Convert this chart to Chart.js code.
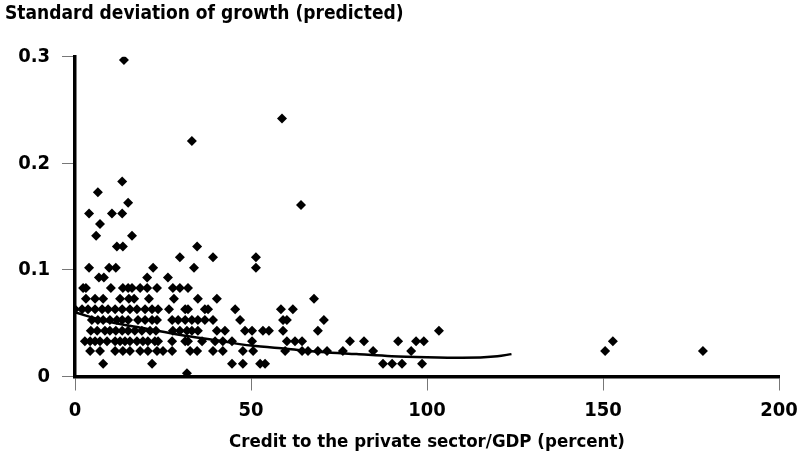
<!DOCTYPE html>
<html>
<head>
<meta charset="utf-8">
<script src="https://cdn.jsdelivr.net/npm/chart.js@4.4.1/dist/chart.umd.min.js"></script>
<style>
    html, body { margin: 0; padding: 0; background: #fff; }
    #wrap { width: 798px; height: 466px; }
</style>
</head>
<body>
<div id="wrap"><canvas id="sdChart"></canvas></div>
<script>
// predicted sd of growth, grouped by the horizontal rows the points sit on
const sdRows = [0.003, 0.012, 0.024, 0.033, 0.043, 0.053, 0.063, 0.073, 0.083, 0.093, 0.102,
    0.112, 0.122, 0.132, 0.143, 0.153, 0.161, 0.163, 0.173, 0.183, 0.221, 0.242, 0.297];

// credit / GDP for every point on each row above
const creditByRow = [
    [31.8],
    [8.0, 21.9, 44.6, 47.7, 52.6, 54.0, 87.5, 90.1, 92.9, 98.6],
    [4.3, 7.1, 11.4, 13.6, 15.6, 18.5, 20.7, 23.3, 25.0, 27.6, 32.7, 34.7, 39.2, 42.0, 47.7,
        50.6, 59.7, 64.5, 66.2, 69.0, 71.6, 76.1, 84.7, 95.5, 150.6, 178.4],
    [2.8, 4.3, 5.7, 7.1, 9.1, 11.4, 12.8, 14.2, 15.6, 17.6, 19.3, 20.7, 22.7, 23.6, 27.6, 31.3,
        32.1, 36.1, 39.8, 42.0, 44.6, 50.3, 60.2, 62.5, 64.5, 78.1, 82.1, 91.8, 96.9, 99.1, 152.8],
    [4.5, 6.3, 8.5, 9.9, 11.6, 13.4, 15.1, 17.0, 19.0, 21.3, 23.0, 27.8, 29.8, 31.8, 33.2, 34.9,
        40.3, 42.6, 48.3, 50.3, 53.4, 55.1, 59.1, 69.0, 103.4],
    [4.8, 6.5, 8.0, 9.9, 11.9, 13.4, 15.1, 17.9, 19.9, 21.9, 23.3, 27.6, 29.3, 31.3, 33.2, 34.9,
        36.9, 39.2, 46.9, 59.1, 60.2, 70.7],
    [0.0, 2.0, 3.7, 5.7, 7.7, 9.4, 11.4, 13.4, 15.6, 17.6, 19.9, 21.9, 23.6, 26.7, 31.3, 32.1,
        36.9, 37.8, 45.5, 58.5, 61.9],
    [3.1, 5.7, 8.0, 12.8, 15.3, 16.8, 21.0, 28.1, 34.9, 40.3, 67.9],
    [2.3, 3.1, 10.2, 13.6, 15.1, 16.2, 18.5, 20.5, 23.3, 27.8, 29.8, 32.1],
    [6.8, 8.2, 20.5, 26.4],
    [4.0, 9.7, 11.6, 22.2, 33.8, 51.4],
    [29.8, 39.2, 51.4],
    [11.9, 13.6, 34.7],
    [6.0, 16.2],
    [7.1],
    [4.0, 10.5, 13.4],
    [64.2],
    [15.1],
    [6.5],
    [13.4],
    [33.2],
    [58.8],
    [13.9]
];

// fitted curve
const fitCredit = [0, 10, 20, 30, 40, 50, 60, 70, 80, 90, 100, 110, 120, 124];
const fitSd = [0.060, 0.051, 0.045, 0.039, 0.034, 0.029, 0.026, 0.023, 0.021, 0.019, 0.018, 0.0175, 0.019, 0.021];

const xTicks = [0, 50, 100, 150, 200];
const yTicks = [0, 0.1, 0.2, 0.3];

const scatterPoints = [];
sdRows.forEach((sd, i) => {
    creditByRow[i].forEach((c) => scatterPoints.push({ x: c, y: sd }));
});
const fitPoints = fitCredit.map((c, i) => ({ x: c, y: fitSd[i] }));

const numFont = { family: "'DejaVu Sans Condensed', 'DejaVu Sans', sans-serif", size: 20, weight: "bold" };
const titleFont = { family: "'DejaVu Sans Condensed', 'DejaVu Sans', sans-serif", size: 19, weight: "bold" };
const axisTitleFont = { family: "'DejaVu Sans Condensed', 'DejaVu Sans', sans-serif", size: 18.5, weight: "bold" };

const ctx = document.getElementById("sdChart").getContext("2d");
new Chart(ctx, {
    type: "scatter",
    data: {
        datasets: [
            {
                label: "Countries",
                data: scatterPoints,
                pointStyle: "rectRot",
                pointRadius: 5,
                backgroundColor: "#000",
                borderColor: "#000",
                borderWidth: 0,
            },
            {
                label: "Fit",
                type: "line",
                data: fitPoints,
                borderColor: "#000",
                borderWidth: 2.5,
                pointRadius: 0,
                fill: false,
                cubicInterpolationMode: "monotone",
            },
        ],
    },
    options: {
        responsive: true,
        maintainAspectRatio: false,
        animation: false,
        layout: { padding: { left: 5, right: 19, top: 0, bottom: 0 } },
        scales: {
            x: {
                type: "linear",
                min: 0,
                max: 200,
                afterBuildTicks: (scale) => {
                    scale.ticks = xTicks.map((v) => ({ value: v }));
                },
                afterFit: (scale) => {
                    scale.height = 89.5;
                    // let the end labels hang over the padding so the axis keeps its full length
                    scale.paddingLeft = 0;
                    scale.paddingRight = 0;
                },
                border: { display: true, color: "#000", width: 3.5 },
                grid: { drawOnChartArea: false, drawTicks: true, tickLength: 14, color: "#777", lineWidth: 1 },
                ticks: { color: "#000", font: numFont, padding: 8, maxRotation: 0 },
                title: {
                    display: true,
                    text: "Credit to the private sector/GDP (percent)",
                    color: "#000",
                    font: axisTitleFont,
                    padding: { top: 0, bottom: 13 },
                },
            },
            y: {
                type: "linear",
                min: 0,
                max: 0.3,
                afterBuildTicks: (scale) => {
                    scale.ticks = yTicks.map((v) => ({ value: v }));
                },
                afterFit: (scale) => {
                    scale.width = 70;
                },
                border: { display: true, color: "#000", width: 3.5 },
                grid: { drawOnChartArea: false, drawTicks: true, tickLength: 13, color: "#777", lineWidth: 1 },
                ticks: {
                    color: "#000",
                    font: numFont,
                    padding: 12,
                    callback: (v) => (v === 0 ? "0" : v.toFixed(1)),
                },
            },
        },
        plugins: {
            legend: { display: false },
            tooltip: { enabled: false },
            title: {
                display: true,
                text: "Standard deviation of growth (predicted)",
                align: "start",
                color: "#000",
                font: titleFont,
                padding: { top: 3, bottom: 31 },
            },
        },
    },
});
</script>
</body>
</html>
